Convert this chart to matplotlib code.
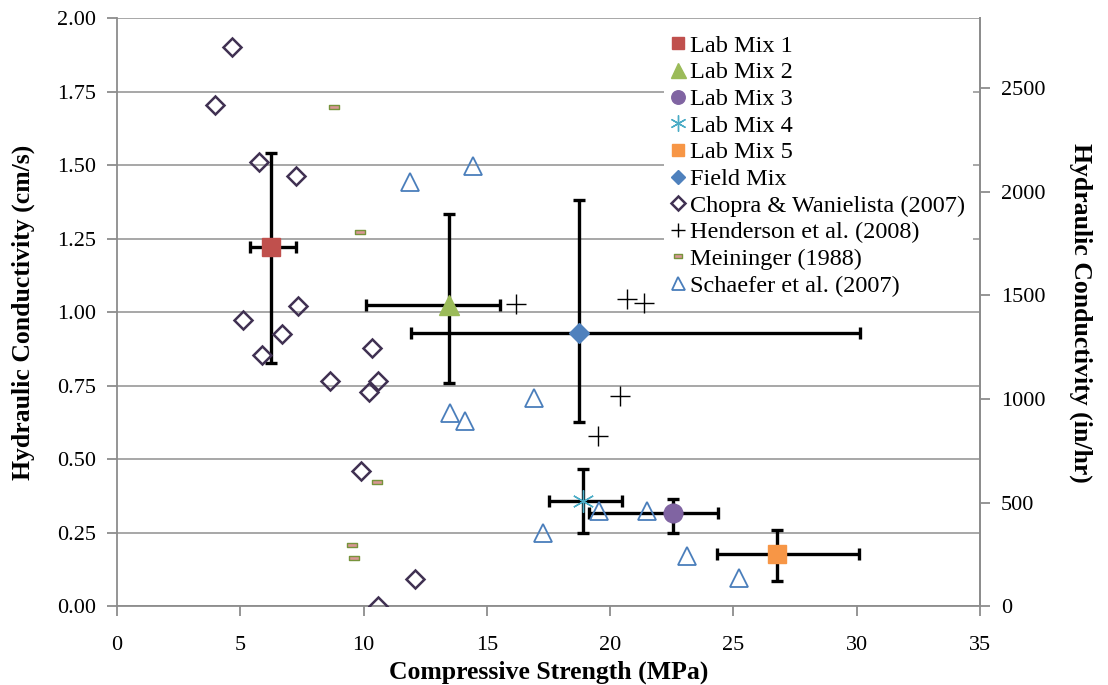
import numpy as np
import matplotlib.pyplot as plt
from matplotlib.path import Path

plt.rcParams['font.family'] = ['Liberation Serif', 'DejaVu Serif']

# Lab / field mixes: centre and error-bar ends
mix_names = ['Lab Mix 1', 'Lab Mix 2', 'Lab Mix 3', 'Lab Mix 4', 'Lab Mix 5', 'Field Mix']
mix_x = [6.23, 13.48, 22.56, 18.91, 26.75, 18.72]
mix_x_lo = [5.39, 10.08, 19.15, 17.52, 24.32, 11.91]
mix_x_hi = [7.25, 15.53, 24.36, 20.47, 30.10, 30.13]
mix_y = [1.223, 1.026, 0.319, 0.359, 0.178, 0.929]
mix_y_lo = [0.829, 0.759, 0.250, 0.250, 0.088, 0.629]
mix_y_hi = [1.544, 1.334, 0.366, 0.467, 0.259, 1.382]

# literature data
chopra_x = [4.65, 3.97, 5.76, 7.25, 7.35, 5.12, 6.68, 5.89, 10.33, 8.64, 10.60, 10.23, 9.89, 12.08, 10.60]
chopra_y = [1.904, 1.706, 1.513, 1.464, 1.023, 0.974, 0.927, 0.855, 0.878, 0.767, 0.768, 0.730, 0.462, 0.095, 0.0]
henderson_x = [16.18, 20.69, 21.37, 20.40, 19.52]
henderson_y = [1.028, 1.045, 1.031, 0.717, 0.581]
meininger_x = [8.80, 9.85, 10.56, 9.52, 9.62]
meininger_y = [1.698, 1.273, 0.423, 0.210, 0.166]
schaefer_x = [11.88, 14.45, 13.50, 14.11, 16.91, 17.29, 19.53, 21.48, 23.10, 25.24]
schaefer_y = [1.445, 1.498, 0.657, 0.632, 0.708, 0.249, 0.326, 0.326, 0.172, 0.098]

cms_to_inhr = 3600 / 2.54

fig = plt.figure(figsize=(11.08, 6.85), dpi=100)
ax = fig.add_axes([0.1056, 0.1146, 0.7789, 0.8584])

grid_c = '#a0a0a0'
spine_c = '#8c8c8c'

# error bars first so markers sit on top
for i in range(len(mix_names)):
    ax.errorbar(mix_x[i], mix_y[i],
                xerr=[[mix_x[i] - mix_x_lo[i]], [mix_x_hi[i] - mix_x[i]]],
                yerr=[[mix_y[i] - mix_y_lo[i]], [mix_y_hi[i] - mix_y[i]]],
                fmt='none', ecolor='black', elinewidth=2.4, capsize=4.5, capthick=2.4, zorder=3)

mix_markers = ['s', '^', 'o', (6, 2, 0), 's', 'D']
mix_colors = ['#c0504d', '#9bbb59', '#8064a2', '#4bacc6', '#f79646', '#4f81bd']
mix_sizes = [12.5, 15, 13.5, 16, 12.5, 10.5]
for i in range(len(mix_names)):
    m = mix_markers[i]
    if m == (6, 2, 0):
        ax.plot(mix_x[i], mix_y[i], linestyle='none', marker=m, markersize=mix_sizes[i],
                markeredgecolor=mix_colors[i], markeredgewidth=1.0, label=mix_names[i], zorder=4)
    else:
        ax.plot(mix_x[i], mix_y[i], linestyle='none', marker=m, markersize=mix_sizes[i],
                color=mix_colors[i], markeredgecolor=mix_colors[i], label=mix_names[i], zorder=4)

ax.plot(chopra_x, chopra_y, linestyle='none', marker='D', markersize=9.5, markerfacecolor='none',
        markeredgecolor='#403152', markeredgewidth=1.8, label='Chopra & Wanielista (2007)', zorder=4)
ax.plot(henderson_x, henderson_y, linestyle='none', marker='+', markersize=14,
        markeredgecolor='black', markeredgewidth=1.0, label='Henderson et al. (2008)', zorder=4)
dash = Path([(-1, -0.42), (1, -0.42), (1, 0.42), (-1, 0.42), (-1, -0.42)],
            [Path.MOVETO, Path.LINETO, Path.LINETO, Path.LINETO, Path.CLOSEPOLY])
ax.plot(meininger_x, meininger_y, linestyle='none', marker=dash, markersize=7.5,
        markerfacecolor='#d99694', markeredgecolor='#77933c', markeredgewidth=1.0,
        label='Meininger (1988)', zorder=4)
ax.plot(schaefer_x, schaefer_y, linestyle='none', marker='^', markersize=13, markerfacecolor='none',
        markeredgecolor='#4a7ebb', markeredgewidth=1.3, label='Schaefer et al. (2007)', zorder=4)

ax.set_xlim(0, 35)
ax.set_ylim(0, 2.0)
ax.set_xticks(np.arange(0, 36, 5))
ax.set_yticks(np.arange(0, 2.01, 0.25))
ax.yaxis.set_major_formatter(plt.FormatStrFormatter('%.2f'))
ax.grid(axis='y', color=grid_c, linewidth=1.3, zorder=0)
ax.set_axisbelow(True)
ax.spines['top'].set_visible(False)
for s in ['left', 'bottom', 'right']:
    ax.spines[s].set_color(spine_c)
    ax.spines[s].set_linewidth(1.3)
ax.tick_params(axis='both', direction='out', length=7, width=1.3, color=spine_c,
               labelsize=16, pad=8)
ax.tick_params(axis='x', pad=14)
ax.set_xlabel('Compressive Strength (MPa)', fontsize=18.5, fontweight='bold', labelpad=4)
ax.set_ylabel('Hydraulic Conductivity (cm/s)', fontsize=18.5, fontweight='bold', labelpad=16)

ax2 = ax.twinx()
ax2.set_ylim(0, 2.0 * cms_to_inhr)
ax2.set_yticks(np.arange(0, 2501, 500))
for s in ['left', 'bottom', 'top']:
    ax2.spines[s].set_visible(False)
ax2.spines['right'].set_color(spine_c)
ax2.spines['right'].set_linewidth(1.3)
ax2.tick_params(axis='y', direction='out', length=7, width=1.3, color=spine_c,
                labelsize=16, pad=8)
ax2.set_ylabel('Hydraulic Conductivity (in/hr)', fontsize=18.5, fontweight='bold',
               rotation=270, labelpad=34)

leg = ax.legend(loc='upper right', bbox_to_anchor=(1.0, 0.997), fontsize=17.5, frameon=True,
                facecolor='white', edgecolor='none', framealpha=1.0, fancybox=False,
                handlelength=0.6, handletextpad=0.2, labelspacing=0.19, borderpad=0.3,
                borderaxespad=0.3, numpoints=1, markerscale=0.72)
leg.set_zorder(10)

fig.savefig('out.png', dpi=100)
